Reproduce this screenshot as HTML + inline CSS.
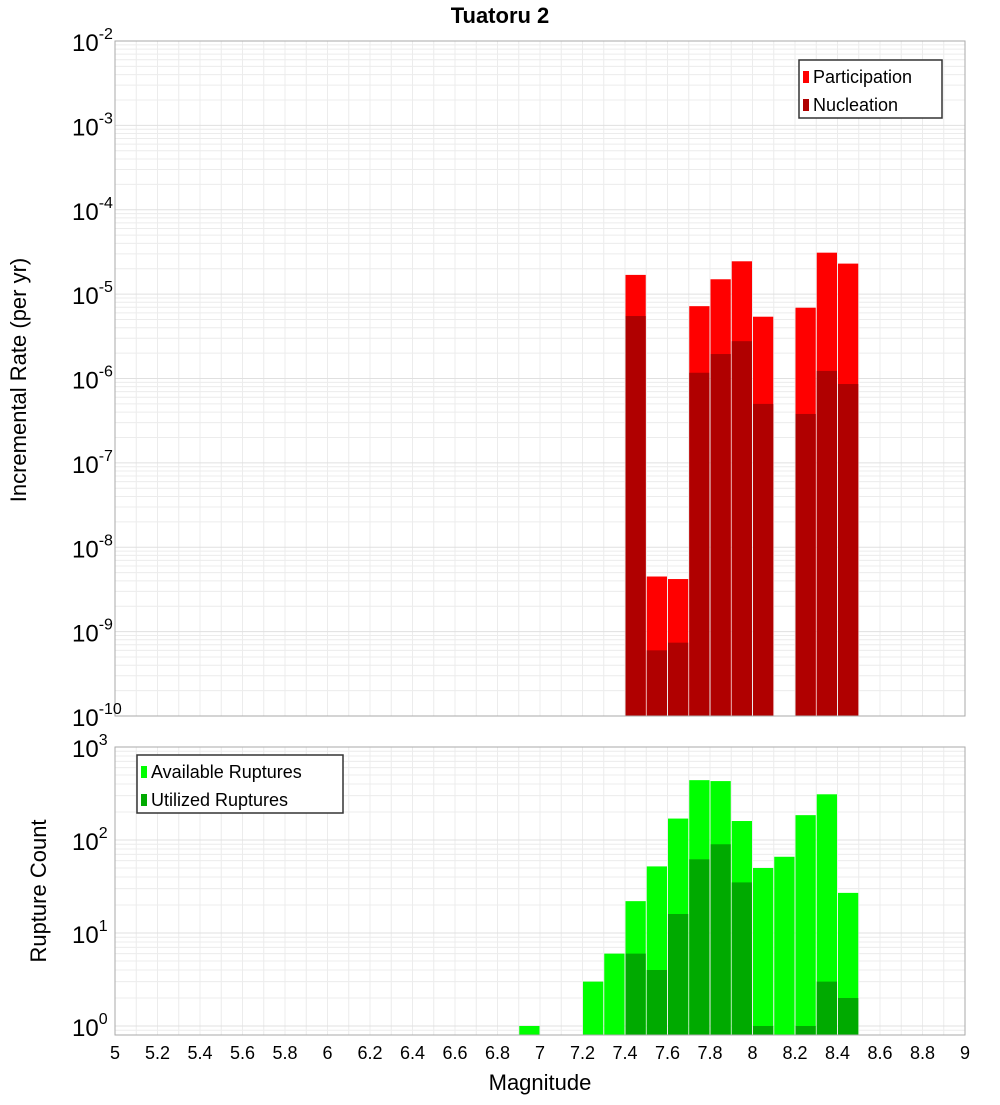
<!DOCTYPE html>
<html><head><meta charset="utf-8"><style>
body{margin:0;background:#fff;width:1000px;height:1100px;overflow:hidden}
svg{font-family:"Liberation Sans","DejaVu Sans",sans-serif}
</style></head><body>
<svg id="c" width="1000" height="1100" xmlns="http://www.w3.org/2000/svg"></svg>
<script>
const binCenters=[6.95,7.05,7.15,7.25,7.35,7.45,7.55,7.65,7.75,7.85,7.95,8.05,8.15,8.25,8.35,8.45];
const participation=[0,0,0,0,0,1.69e-5,4.5e-9,4.2e-9,7.2e-6,1.5e-5,2.45e-5,5.4e-6,0,6.9e-6,3.1e-5,2.3e-5];
const nucleation=[0,0,0,0,0,5.5e-6,6e-10,7.4e-10,1.17e-6,1.95e-6,2.77e-6,5e-7,0,3.8e-7,1.23e-6,8.6e-7];
const available=[1,0,0,3,6,22,52,170,440,430,160,50,66,185,310,27];
const utilized=[0,0,0,0,0,6,4,16,62,90,35,1,0,1,3,2];
const xTicks=[5,5.2,5.4,5.6,5.8,6,6.2,6.4,6.6,6.8,7,7.2,7.4,7.6,7.8,8,8.2,8.4,8.6,8.8,9];
const topExp=[-10,-9,-8,-7,-6,-5,-4,-3,-2];
const botExp=[0,1,2,3];

const S=document.getElementById('c'),NS='http://www.w3.org/2000/svg';
function mk(t,a,txt){const e=document.createElementNS(NS,t);for(const k in a)e.setAttribute(k,a[k]);if(txt!=null)e.textContent=txt;S.appendChild(e);return e;}
const X0=115,X1=965;
const xs=m=>X0+(m-5)/4*(X1-X0);
const T={y0:41,y1:716,lmin:-10,lmax:-2};
const B={y0:747,y1:1035,lmin:Math.log10(0.8),lmax:3};
const ys=(P,v)=>P.y1-(Math.log10(v)-P.lmin)/(P.lmax-P.lmin)*(P.y1-P.y0);

function panel(P,name){
  let r=mk('rect',{x:X0,y:P.y0,width:X1-X0,height:P.y1-P.y0,fill:'#fff'});
  
  for(let m=5;m<=9.001;m+=0.1){const x=xs(m);mk('line',{x1:x,x2:x,y1:P.y0,y2:P.y1,stroke:'#ececec','stroke-width':1});}
  for(let e=Math.floor(P.lmin);e<P.lmax;e++)for(let k=1;k<10;k++){const v=k*Math.pow(10,e);const lv=Math.log10(v);if(lv<P.lmin||lv>P.lmax)continue;const y=ys(P,v);mk('line',{x1:X0,x2:X1,y1:y,y2:y,stroke:k==1?'#e0e0e0':'#ececec','stroke-width':1});}
}
function bars(P,vals,color,name){
  const w=xs(5.1)-xs(5);
  vals.forEach((v,i)=>{if(!v)return;const y=ys(P,v);const b=mk('rect',{x:xs(binCenters[i])-w/2+0.5,y:y,width:w-1,height:P.y1-y,fill:color});
    });
}
function frame(P,name){const f=mk('rect',{x:X0,y:P.y0,width:X1-X0,height:P.y1-P.y0,fill:'none',stroke:'#aaa','stroke-width':1});}
function ylabels(P,exps,name){
  exps.forEach(e=>{const y=ys(P,Math.pow(10,e));const t=mk('text',{x:72,y:y+10,'font-size':24,fill:'#000'});
    t.innerHTML='10<tspan dy="-12" font-size="16">'+e+'</tspan>';});
}
panel(T,'top');bars(T,participation,'#ff0000','participation');bars(T,nucleation,'#b00000','nucleation');frame(T,'top');ylabels(T,topExp,'top');
panel(B,'bottom');bars(B,available,'#00ff00','available');bars(B,utilized,'#00aa00','utilized');frame(B,'bottom');ylabels(B,botExp,'bottom');
xTicks.forEach(m=>{const t=mk('text',{x:xs(m),y:1059,'font-size':18,'text-anchor':'middle'},String(m));});
let t;
t=mk('text',{x:500,y:23,'font-size':22,'font-weight':'bold','text-anchor':'middle'},'Tuatoru 2');
t=mk('text',{x:540,y:1090,'font-size':22,'text-anchor':'middle'},'Magnitude');
t=mk('text',{x:0,y:0,'font-size':22,'text-anchor':'middle',transform:'translate(26,380) rotate(-90)'},'Incremental Rate (per yr)');
t=mk('text',{x:0,y:0,'font-size':22,'text-anchor':'middle',transform:'translate(46,891) rotate(-90)'},'Rupture Count');
function legend(x,y,w,items,name){
  const g=mk('rect',{x:x,y:y,width:w,height:58,fill:'#fff',stroke:'#333','stroke-width':1.5});
  items.forEach((it,i)=>{const r=mk('rect',{x:x+4,y:y+11+i*28,width:6,height:12,fill:it[1]});
    const tt=mk('text',{x:x+14,y:y+23+i*28,'font-size':18},it[0]);});
}
legend(799,60,143,[['Participation','#ff0000'],['Nucleation','#b00000']],'top-legend');
legend(137,755,206,[['Available Ruptures','#00ff00'],['Utilized Ruptures','#00aa00']],'bottom-legend');
</script>
</body></html>
